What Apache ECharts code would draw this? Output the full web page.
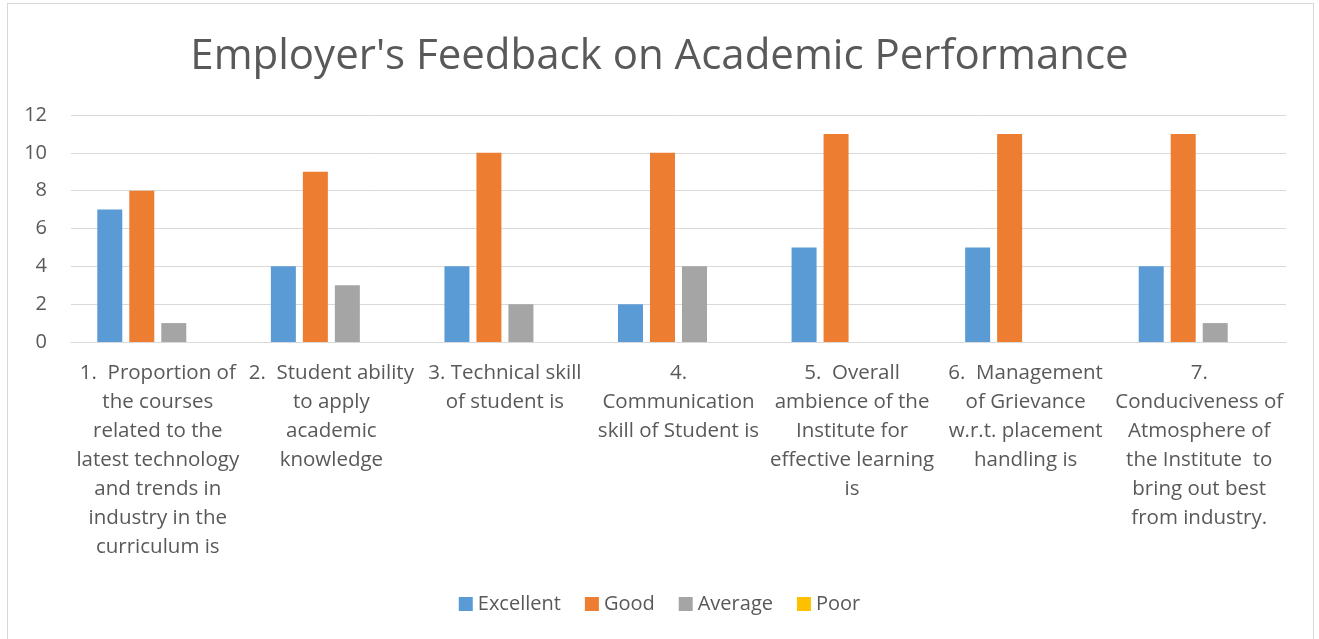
<!DOCTYPE html>
<html>
<head>
<meta charset="utf-8">
<script src="https://cdn.jsdelivr.net/npm/echarts@6/dist/echarts.min.js"></script>
<style>
  body { margin: 0; background: #fff; }
  #chart { position: absolute; left: 0; top: 0; width: 1319px; height: 639px; }
  #frame { position: absolute; left: 7px; top: 3px; width: 1305px; height: 640px; border: 1px solid #d9d9d9; pointer-events: none; }
</style>
</head>
<body>
<div id="chart"></div>
<div id="frame"></div>
<script>
var categories = [
  '1.  Proportion of\nthe courses\nrelated to the\nlatest technology\nand trends in\nindustry in the\ncurriculum is',
  '2.  Student ability\nto apply\nacademic\nknowledge',
  '3. Technical skill\nof student is',
  '4.\nCommunication\nskill of Student is',
  '5.  Overall\nambience of the\nInstitute for\neffective learning\nis',
  '6.  Management\nof Grievance\nw.r.t. placement\nhandling is',
  '7.\nConduciveness of\nAtmosphere of\nthe Institute  to\nbring out best\nfrom industry.'
]
var excellent = [7, 4, 4, 2, 5, 5, 4]
var good = [8, 9, 10, 10, 11, 11, 11]
var average = [1, 3, 2, 4, 0, 0, 1]
var poor = [0, 0, 0, 0, 0, 0, 0]

var font = 'Open Sans'
var textColor = '#595959'

function bar (name, data, color) {
  return {
    name: name,
    type: 'bar',
    data: data,
    barWidth: 25,
    barGap: '28%',
    itemStyle: { color: color }
  }
}

var myChart = echarts.init(document.getElementById('chart'))
myChart.setOption({
  animation: false,
  title: {
    text: "Employer's Feedback on Academic Performance",
    left: 'center',
    top: 31,
    textStyle: { fontFamily: font, fontSize: 42, fontWeight: 'normal', color: textColor }
  },
  legend: {
    top: 589,
    left: 'center',
    icon: 'rect',
    itemWidth: 14,
    itemHeight: 14,
    itemGap: 24,
    textStyle: { fontFamily: font, fontSize: 20, color: textColor },
    data: ['Excellent', 'Good', 'Average', 'Poor']
  },
  grid: { left: 71, right: 33, top: 115, height: 227 },
  xAxis: {
    type: 'category',
    data: categories,
    axisTick: { show: false },
    axisLine: { lineStyle: { color: '#d9d9d9' } },
    axisLabel: {
      interval: 0,
      margin: 17,
      lineHeight: 29,
      fontFamily: font,
      fontSize: 20.5,
      color: textColor,
      align: 'center'
    }
  },
  yAxis: {
    type: 'value',
    min: 0,
    max: 12,
    interval: 2,
    axisLine: { show: false },
    axisTick: { show: false },
    splitLine: { lineStyle: { color: '#d9d9d9' } },
    axisLabel: { margin: 24, fontFamily: font, fontSize: 20, color: textColor }
  },
  series: [
    bar('Excellent', excellent, '#5b9bd5'),
    bar('Good', good, '#ed7d31'),
    bar('Average', average, '#a5a5a5'),
    bar('Poor', poor, '#ffc000')
  ]
})
</script>
</body>
</html>
